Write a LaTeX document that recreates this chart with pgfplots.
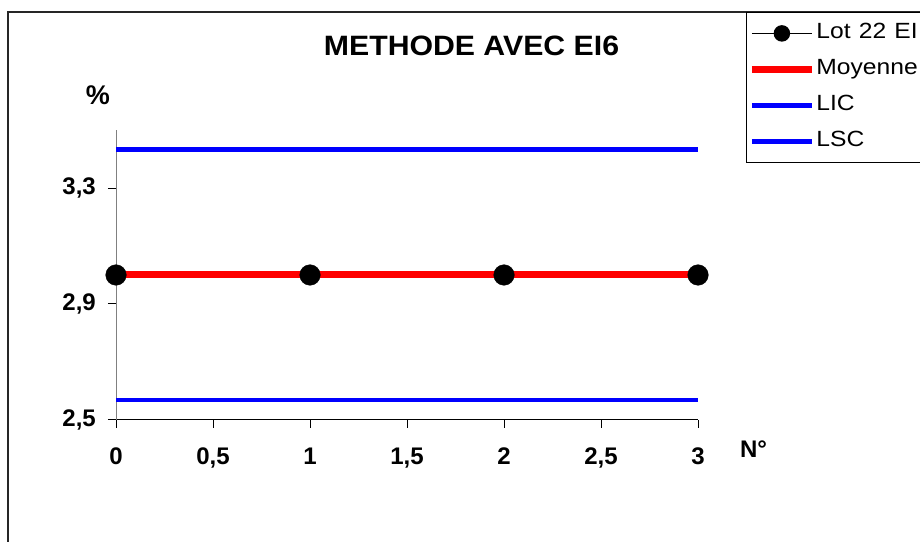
\documentclass[border=0pt]{standalone}
\usepackage{fontspec}
\setmainfont{Liberation Sans}
\usepackage{graphicx}
\usepackage{pgfplots}
\pgfplotsset{compat=1.18}
\newcommand{\sx}[1]{\scalebox{1.12}[1]{#1}}
\begin{document}
\begin{tikzpicture}[x=1pt,y=1pt]
\useasboundingbox (0,0) rectangle (920,541);
\clip (0,0) rectangle (920,541);
\fill[white] (0,0) rectangle (920,541);
\draw[line width=1.6pt, black!85] (8,529) rectangle (960,-30);
\begin{axis}[
 at={(116pt,121.5pt)}, anchor=south west,
 scale only axis, width=582pt, height=289pt,
 xmin=0, xmax=3, ymin=2.5, ymax=3.5,
 axis x line=bottom, axis y line=left,
 axis line style={-},
 x axis line style={black, line width=1pt},
 y axis line style={black!50, line width=1pt},
 xtick={0,0.5,1,1.5,2,2.5,3}, ytick={2.5,2.9,3.3},
 tick align=outside, major tick length=8pt,
 xtick style={black, line width=0.8pt}, ytick style={black, line width=0.8pt},
 /pgf/number format/use comma,
 /pgf/number format/assume math mode=true,
 ticklabel style={font=\fontsize{24}{24}\selectfont\bfseries, inner sep=0pt},
 xticklabel style={anchor=north, yshift=-20pt},
 yticklabel style={anchor=east, xshift=-12pt},
 clip=false,
 legend cell align=left,
 legend image code/.code={\draw[mark repeat=2,mark phase=2,#1] plot coordinates {(0pt,0pt) (30pt,0pt) (60pt,0pt)};},
 legend style={at={(1.08247,1.41003)}, anchor=north west, draw=black, line width=0.8pt,
   inner xsep=2pt, inner ysep=11pt, row sep=16pt,
   font=\fontsize{22}{22}\selectfont,
   nodes={inner xsep=1pt, inner ysep=0pt, text height=15pt, text depth=5pt, text width=120pt}},
]
\addlegendimage{black, line width=1.5pt, mark=*, mark size=7.5pt}
\addlegendentry{\sx{Lot 22 EI}}
\addlegendimage{red, line width=7pt}
\addlegendentry{\sx{Moyenne}}
\addlegendimage{blue, line width=4.5pt}
\addlegendentry{\sx{LIC}}
\addlegendimage{blue, line width=4.5pt}
\addlegendentry{\sx{LSC}}
\addplot[black, line width=1.5pt, forget plot] coordinates {(0,3) (1,3) (2,3) (3,3)};
\addplot[red, line width=7pt, forget plot] coordinates {(0,3) (1,3) (2,3) (3,3)};
\addplot[blue, line width=4.5pt, forget plot] coordinates {(0,2.567) (1,2.567) (2,2.567) (3,2.567)};
\addplot[blue, line width=4.5pt, forget plot] coordinates {(0,3.434) (1,3.434) (2,3.434) (3,3.434)};
\addplot[black, only marks, mark=*, mark size=10.3pt, forget plot] coordinates {(0,3) (1,3) (2,3) (3,3)};
\end{axis}
\node[anchor=base, inner sep=0pt, font=\fontsize{28}{28}\selectfont\bfseries] at (471.5,485) {\scalebox{1.08}[1]{METHODE AVEC EI6}};
\node[anchor=base, inner sep=0pt, font=\fontsize{27}{27}\selectfont\bfseries] at (98,436) {\%};
\node[anchor=base, inner sep=0pt, font=\fontsize{24}{24}\selectfont\bfseries] at (753.5,84) {N°};
\end{tikzpicture}
\end{document}
